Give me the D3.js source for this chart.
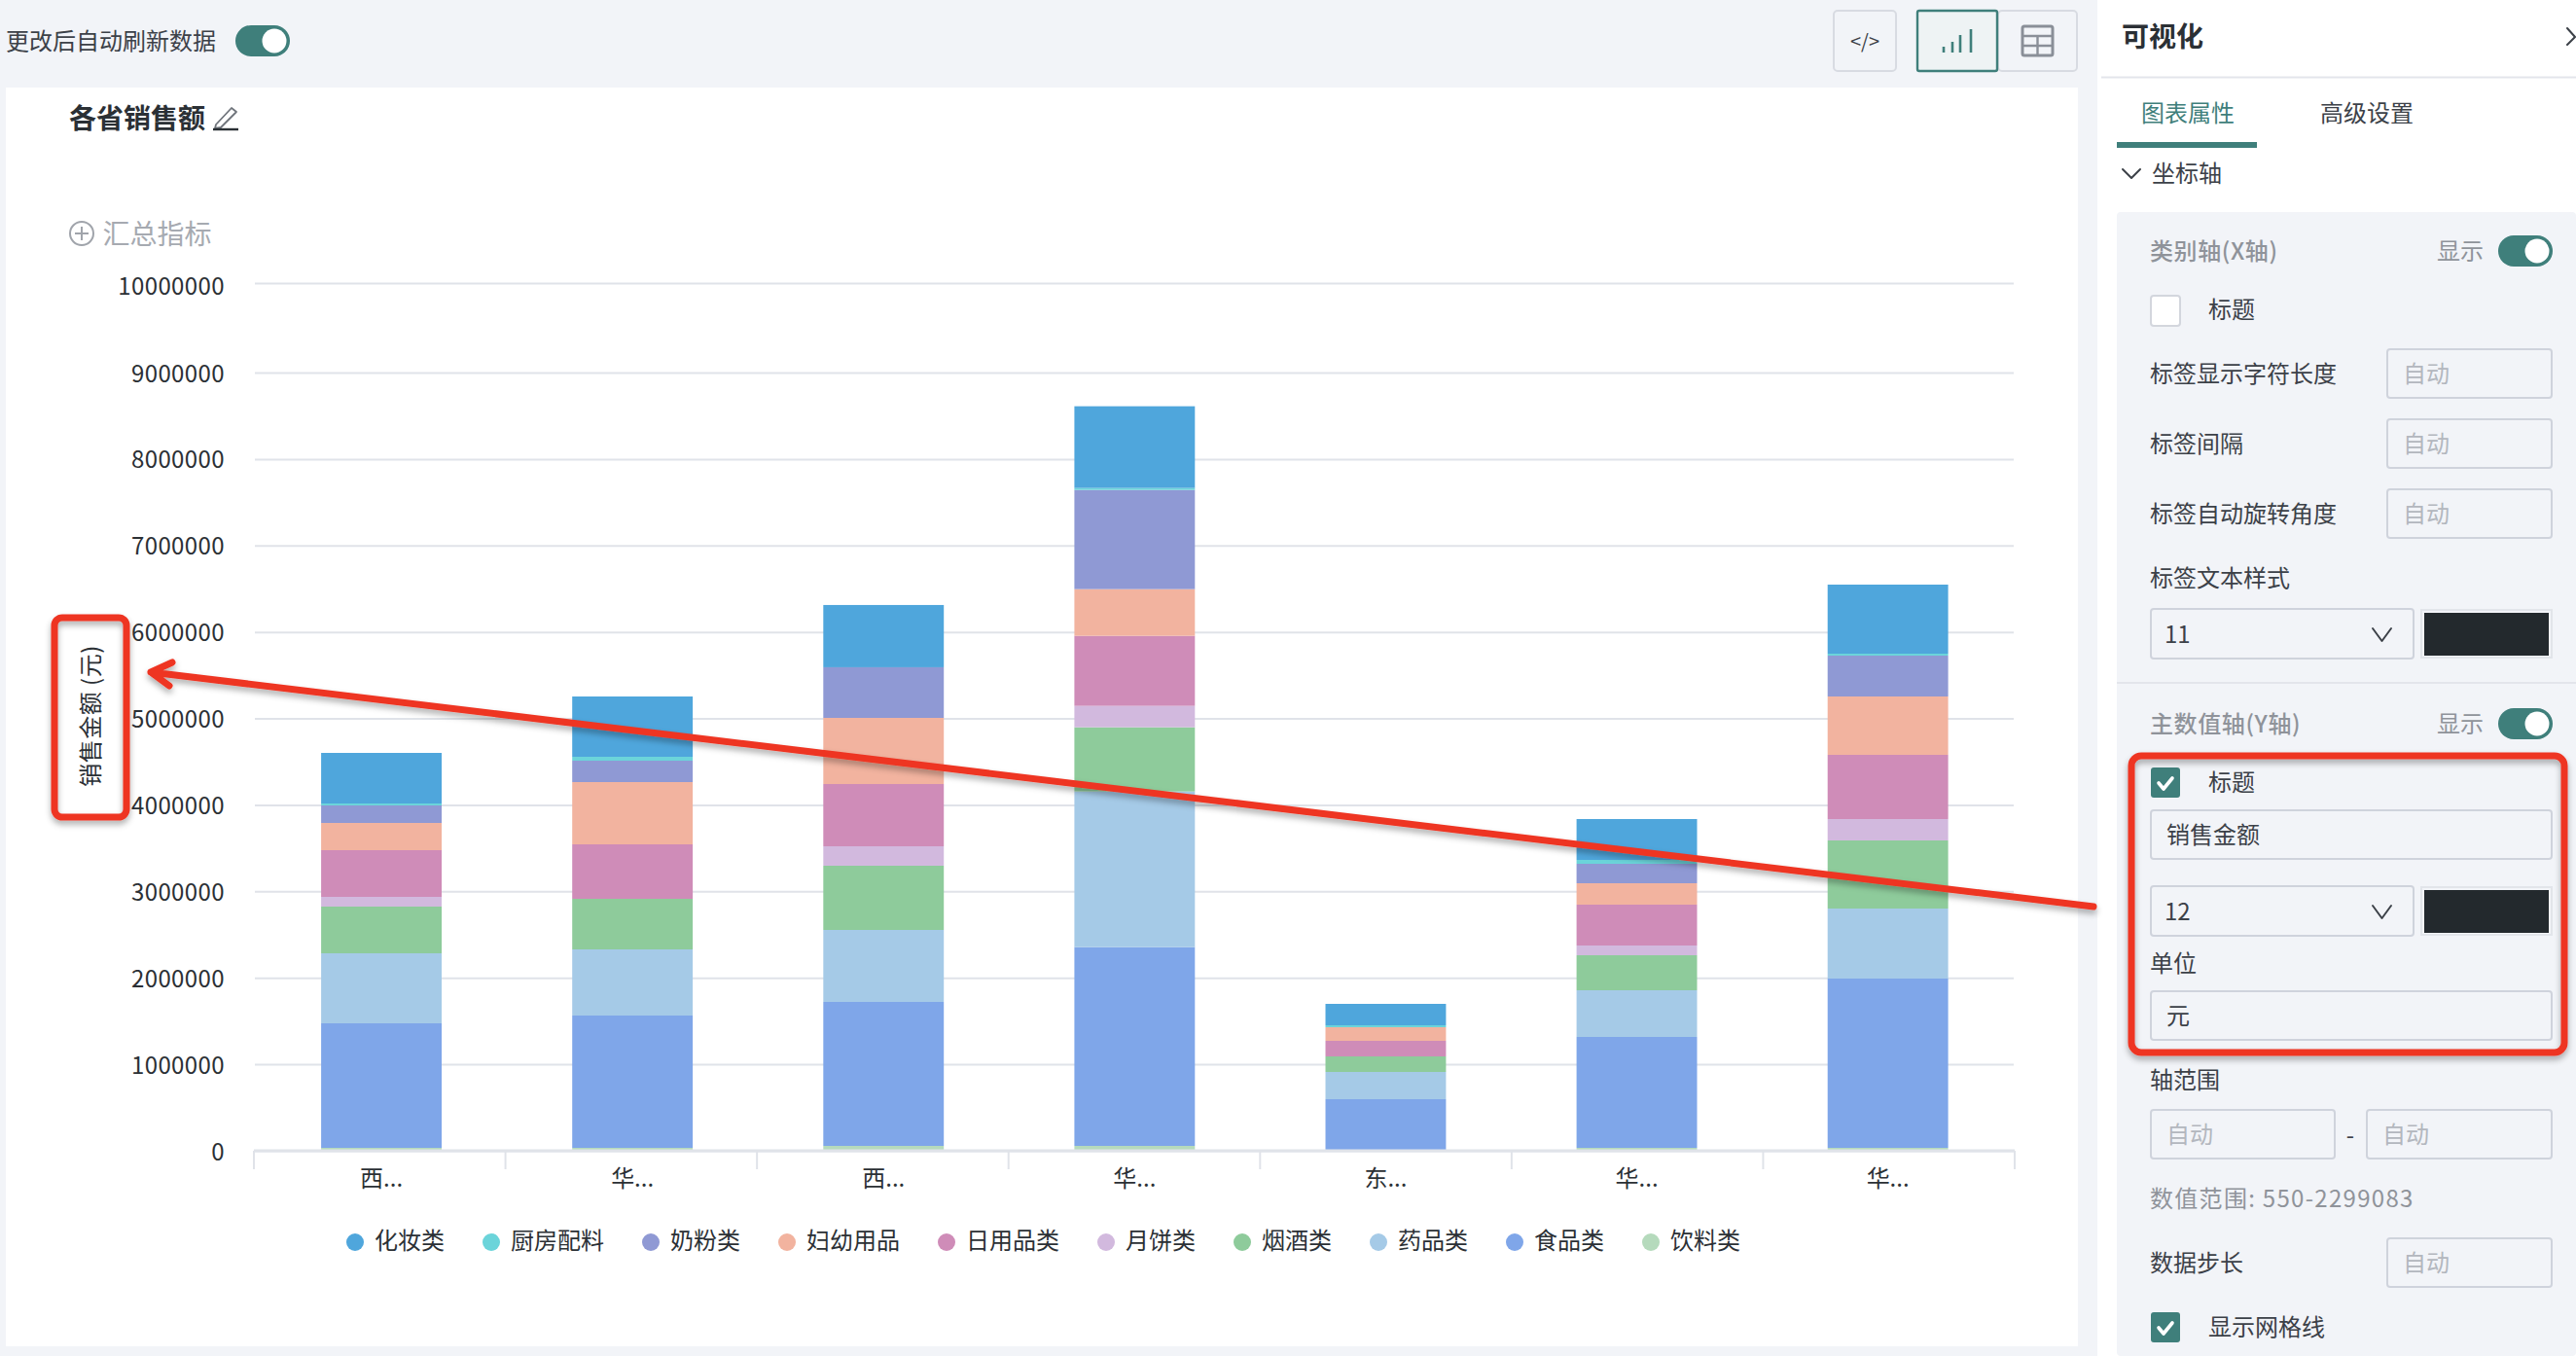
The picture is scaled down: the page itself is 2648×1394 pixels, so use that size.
<!DOCTYPE html>
<html lang="zh">
<head>
<meta charset="utf-8">
<title>各省销售额</title>
<script src="https://cdn.jsdelivr.net/npm/d3@7"></script>
<style>
html,body{margin:0;padding:0;background:#f2f4f8;overflow:hidden}
svg{display:block}
text{font-family:"Noto Sans CJK SC","Noto Sans",sans-serif;dominant-baseline:central}
</style>
</head>
<body>
<svg id="c" width="2648" height="1394" viewBox="0 0 2648 1394"></svg>
<script>
const categories = ["西...", "华...", "西... ", "华... ", "东...", "华...  ", "华...   "];
const seriesNames = ["化妆类", "厨房配料", "奶粉类", "妇幼用品", "日用品类", "月饼类", "烟酒类", "药品类", "食品类", "饮料类"];
const seriesColors = ["#4fa6dc", "#6bd4da", "#8f99d4", "#f2b39f", "#cf8cb8", "#d2b9de", "#8ecb9b", "#a5cae7", "#7fa6e9", "#b5dabc"];
const cosmetics = [585000, 697500, 720000, 945000, 247500, 472500, 798750];
const kitchen = [22500, 45000, 550, 22500, 22500, 45000, 22500];
const milkPowder = [202500, 247500, 585000, 1147500, 0, 225000, 472500];
const maternity = [315000, 720000, 765000, 540000, 157500, 247500, 675000];
const daily = [540000, 630000, 720000, 810000, 180000, 472500, 742500];
const mooncake = [112500, 0, 225000, 247500, 0, 112500, 247500];
const tobacco = [540000, 585000, 742500, 742500, 180000, 405000, 787500];
const medicine = [810000, 765000, 832500, 1800000, 315000, 540000, 810000];
const food = [1440000, 1530000, 1665000, 2299083, 585000, 1282500, 1957500];
const drinks = [22500, 22500, 45000, 45000, 0, 22500, 22500];
const seriesValues = [cosmetics, kitchen, milkPowder, maternity, daily, mooncake, tobacco, medicine, food, drinks];
const yTicks = [0, 1000000, 2000000, 3000000, 4000000, 5000000, 6000000, 7000000, 8000000, 9000000, 10000000];

const TEAL = "#3f7f7b", DARK = "#2b3035", MID = "#3c4148", GREY = "#8f939a", PH = "#b3b7be", LINE = "#cfd3dc", RED = "#ee3524", GRID = "#e0e3e9";
const svg = d3.select("#c");
const defs = svg.append("defs");
const sh = defs.append("filter").attr("id", "sh").attr("filterUnits", "userSpaceOnUse")
  .attr("x", 0).attr("y", 0).attr("width", 2648).attr("height", 1394);
sh.append("feDropShadow").attr("dx", 0).attr("dy", 4).attr("stdDeviation", 3).attr("flood-color", "#000").attr("flood-opacity", .32);

function rect(x0, y0, x1, y1, fill, o = {}) {
  return svg.append("rect").attr("x", x0).attr("y", y0).attr("width", x1 - x0).attr("height", y1 - y0)
    .attr("fill", fill).attr("rx", o.rx || 0).attr("stroke", o.stroke || "none").attr("stroke-width", o.sw || 0);
}
function label(x, y, s, size, fill, o = {}) {
  return svg.append("text").attr("x", x).attr("y", y - 1.7).attr("font-size", size).attr("fill", fill)
    .attr("font-weight", o.weight || 400).attr("text-anchor", o.anchor || "start")
    .attr("letter-spacing", o.ls || 0).text(s);
}
function path(d, stroke, sw, o = {}) {
  return svg.append("path").attr("d", d).attr("fill", o.fill || "none").attr("stroke", stroke).attr("stroke-width", sw)
    .attr("stroke-linecap", o.cap || "round").attr("stroke-linejoin", "round");
}
function toggle(x0, y0) {
  rect(x0, y0, x0 + 56, y0 + 32, TEAL, { rx: 16 });
  svg.append("circle").attr("cx", x0 + 40).attr("cy", y0 + 16).attr("r", 12.5).attr("fill", "#fff");
}
function checkbox(y0, on) {
  rect(2211, y0, 2241, y0 + 31, on ? TEAL : "#fff", { rx: 3, stroke: on ? TEAL : "#d3d6dd", sw: on ? 0 : 2 });
  if (on) path(`M2219 ${y0 + 16} l5 6 l9 -11`, "#fff", 3.6);
}
function input(x0, y0, x1, y1, s, ph) {
  rect(x0, y0, x1, y1, "none", { rx: 3, stroke: LINE, sw: 2 });
  if (s) label(x0 + 16, (y0 + y1) / 2, s, 24, ph ? PH : MID);
}
function select(y0, s) {
  rect(2211, y0, 2481, y0 + 51, "none", { rx: 3, stroke: LINE, sw: 2 });
  label(2225, y0 + 26, s, 24, MID);
  path(`M2439 ${y0 + 20} l9.5 13 l9.5 -13`, MID, 2);
  rect(2489, y0 + 1, 2623, y0 + 50, "none", { stroke: "#e2e5ea", sw: 2 });
  rect(2492, y0 + 4, 2620, y0 + 48, "#23292d");
}

// page panels
rect(0, 0, 2648, 1394, "#f2f4f8");
rect(6, 90, 2136, 1384, "#fff");
rect(2156, 0, 2648, 1394, "#fff");
rect(2176, 218, 2648, 1394, "#f2f4f8", { rx: 4 });

// top bar
label(6, 42, "更改后自动刷新数据", 24, MID);
toggle(242, 26);
rect(1885, 11, 1949, 73, "none", { rx: 4, stroke: "#d8dbe2", sw: 2 });
label(1917, 43, "</>", 20, MID, { anchor: "middle" });
rect(2054, 11, 2135, 73, "none", { rx: 4, stroke: "#d8dbe2", sw: 2 });
rect(1971, 11, 2053, 73, "#eef3f4", { rx: 2, stroke: TEAL, sw: 2.4 });
path("M1998 48 V54 M2007 43 V54 M2015 36 V54 M2026 30 V54", TEAL, 2.6, { cap: "butt" });
rect(2079, 27, 2110, 57, "none", { rx: 2, stroke: "#8a8f98", sw: 3 });
path("M2079 37 H2110 M2094.5 37 V57 M2079 47 H2110", "#8a8f98", 2.4, { cap: "butt" });

// chart heading
label(71, 122, "各省销售额", 28, DARK, { weight: 700 });
path("M222 128 L238 111 L243 115 L227 131 L221 132 Z", "#6f747b", 1.8);
path("M219 133 H245", DARK, 2.4, { cap: "butt" });
svg.append("circle").attr("cx", 84).attr("cy", 240).attr("r", 12).attr("fill", "none").attr("stroke", "#a0a4ab").attr("stroke-width", 2);
path("M77 240 H91 M84 233 V247", "#a0a4ab", 2, { cap: "butt" });
label(105.5, 241, "汇总指标", 28, "#a6aab1");

// chart
const x = d3.scaleBand().domain(categories).range([263, 2069.7]).paddingInner(0.52).paddingOuter(0.26);
const xTick = d3.scaleLinear().domain([0, categories.length]).range([261, 2071]);
const y = d3.scaleLinear().domain([0, 9000000, 10000000]).range([1182, 382, 290]);
const rows = categories.map((c, i) => {
  const r = { category: c };
  seriesNames.forEach((n, k) => { r[n] = seriesValues[k][i]; });
  return r;
});
const stacked = d3.stack().keys([...seriesNames].reverse())(rows);
const color = d3.scaleOrdinal().domain(seriesNames).range(seriesColors);

const grid = svg.append("g").attr("transform", "translate(0,1)");
grid.call(d3.axisLeft(y).tickValues(yTicks).tickSize(0).tickPadding(0).tickFormat(d3.format("d")));
grid.select(".domain").remove();
grid.selectAll(".tick line").attr("x1", 262).attr("x2", 2070).attr("stroke", GRID).attr("stroke-width", 2);
grid.selectAll(".tick text").attr("x", 231).attr("dy", d => d === 10000000 ? 1 : -1.4).attr("font-size", 24).attr("fill", DARK)
  .attr("font-family", '"Noto Sans CJK SC"').attr("letter-spacing", 0.4).attr("text-anchor", "end");

svg.append("g").selectAll("g").data(stacked).join("g").attr("fill", d => color(d.key))
  .selectAll("rect").data(d => d).join("rect")
  .attr("x", d => x(d.data.category)).attr("width", x.bandwidth())
  .attr("y", d => y(d[1])).attr("height", d => y(d[0]) - y(d[1]));

// x axis
const xAxis = svg.append("g").attr("transform", "translate(0,1183)");
xAxis.append("line").attr("x1", 261).attr("x2", 2071).attr("stroke", GRID).attr("stroke-width", 3);
xAxis.selectAll("line.t").data(d3.range(categories.length + 1)).join("line").attr("class", "t")
  .attr("x1", i => xTick(i)).attr("x2", i => xTick(i))
  .attr("y1", 0).attr("y2", 19).attr("stroke", GRID).attr("stroke-width", 2);
xAxis.selectAll("text").data(categories).join("text")
  .attr("x", d => x(d) + x.bandwidth() / 2).attr("y", 26.6).attr("text-anchor", "middle")
  .attr("font-size", 24).attr("fill", DARK).text(d => d.trim());

// legend
let lx = 365;
seriesNames.forEach((n, i) => {
  svg.append("circle").attr("cx", lx).attr("cy", 1277).attr("r", 9).attr("fill", seriesColors[i]);
  label(lx + 20, 1275.4, n, 24, DARK);
  lx += 68 + n.length * 24;
});

// y title
svg.append("text").attr("transform", "translate(91,736) rotate(-90)").attr("text-anchor", "middle")
  .attr("font-size", 24).attr("letter-spacing", 0.5).attr("fill", DARK).text("销售金额 (元)");

// side panel
label(2181, 38, "可视化", 28, DARK, { weight: 700 });
path("M2639 29 L2647 38 L2639 46", MID, 2);
rect(2160, 78.5, 2648, 80.5, "#e3e5eb");
label(2201, 116, "图表属性", 24, TEAL);
label(2385, 116, "高级设置", 24, MID);
rect(2176, 146, 2320, 152, TEAL);
path("M2182 174 L2191 183 L2200 174", MID, 2);
label(2212, 178, "坐标轴", 24, MID);

label(2210, 258, "类别轴(X轴)", 24, GREY, { weight: 500, ls: 0.6 });
label(2505, 258, "显示", 24, GREY);
toggle(2568, 242);
checkbox(304, false);
label(2270, 318, "标题", 24, MID);
label(2210, 384, "标签显示字符长度", 24, MID);
input(2454, 359, 2623, 409, "自动", true);
label(2210, 456, "标签间隔", 24, MID);
input(2454, 431, 2623, 481, "自动", true);
label(2210, 528, "标签自动旋转角度", 24, MID);
input(2454, 503, 2623, 553, "自动", true);
label(2210, 594, "标签文本样式", 24, MID);
select(626, "11");
rect(2176, 701, 2648, 703, "#e3e5eb");

label(2210, 744, "主数值轴(Y轴)", 24, GREY, { weight: 500, ls: 0.6 });
label(2505, 744, "显示", 24, GREY);
toggle(2568, 728);
checkbox(789, true);
label(2270, 804, "标题", 24, MID);
input(2211, 833, 2623, 883, "销售金额");
select(911, "12");
label(2210, 990, "单位", 24, MID);
input(2211, 1019, 2623, 1069, "元");
label(2210, 1110, "轴范围", 24, MID);
input(2211, 1141, 2400, 1191, "自动", true);
label(2416, 1167, "-", 24, MID, { anchor: "middle" });
input(2433, 1141, 2623, 1191, "自动", true);
label(2210, 1232, "数值范围: 550-2299083", 24, GREY, { ls: 1.3 });
label(2210, 1298, "数据步长", 24, MID);
input(2454, 1273, 2623, 1323, "自动", true);
checkbox(1349, true);
label(2270, 1364, "显示网格线", 24, MID);

// red annotations
const ann = svg.append("g").attr("filter", "url(#sh)");
ann.append("rect").attr("x", 56).attr("y", 635).attr("width", 74).attr("height", 205).attr("rx", 8)
  .attr("fill", "none").attr("stroke", RED).attr("stroke-width", 7);
ann.append("rect").attr("x", 2191).attr("y", 777).attr("width", 445).attr("height", 305).attr("rx", 10)
  .attr("fill", "none").attr("stroke", RED).attr("stroke-width", 7);
ann.append("path").attr("d", "M2152 932 L155 691 M177 681 L155 691 L174 705")
  .attr("fill", "none").attr("stroke", RED).attr("stroke-width", 7).attr("stroke-linecap", "round").attr("stroke-linejoin", "round");
</script>
</body>
</html>
